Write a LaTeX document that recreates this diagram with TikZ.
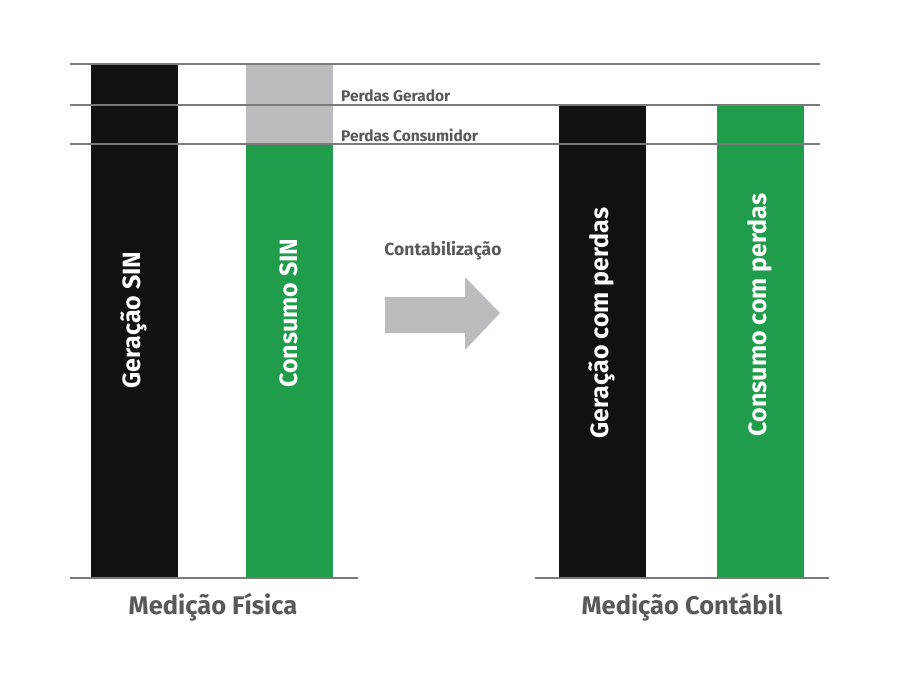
\documentclass[tikz,border=0pt]{standalone}
\usepackage{fontspec}
\setmainfont{Fira Sans}
\definecolor{barblack}{HTML}{111111}
\definecolor{bargreen}{HTML}{1F9D4A}
\definecolor{bargray}{HTML}{BBBCC0}
\definecolor{txtgray}{HTML}{595959}
\definecolor{linegray}{HTML}{7A7A7A}
\begin{document}
\begin{tikzpicture}[x=1pt,y=-1pt,
  bar/.style={draw=none,minimum width=87pt,inner sep=0pt,anchor=north west},
  bartext/.style={text=white,font=\bfseries\fontsize{25}{25}\selectfont,rotate=90},
  smalllbl/.style={text=txtgray,font=\bfseries\fontsize{15.5}{16}\selectfont,anchor=west,inner sep=0pt},
  biglbl/.style={text=txtgray,font=\bfseries\fontsize{25.5}{26}\selectfont,inner sep=0pt},
  guide/.style={draw=linegray,line width=1.1pt}]
\useasboundingbox (0,0) rectangle (900,687);
% bars
\node[bar,fill=barblack,minimum height=514pt] (g1) at (91,64) {};
\node[bar,fill=bargray,minimum height=80pt] (p1) at (246,64) {};
\node[bar,fill=bargreen,minimum height=434pt] (c1) at (246,144) {};
\node[bar,fill=barblack,minimum height=473pt] (g2) at (559,105) {};
\node[bar,fill=bargreen,minimum height=473pt] (c2) at (717,105) {};
% guide lines
\coordinate (l1a) at (70,64);  \coordinate (l1b) at (820,64);
\coordinate (l2a) at (70,105); \coordinate (l2b) at (820,105);
\coordinate (l3a) at (70,144); \coordinate (l3b) at (820,144);
\coordinate (b1a) at (70,578); \coordinate (b1b) at (358,578);
\coordinate (b2a) at (535,578); \coordinate (b2b) at (829,578);
\draw[guide] (l1a) -- (l1b);
\draw[guide] (l2a) -- (l2b);
\draw[guide] (l3a) -- (l3b);
\draw[guide] (b1a) -- (b1b);
\draw[guide] (b2a) -- (b2b);
% bar texts
\node[bartext] (tg1) at (134,320) {Geração SIN};
\node[bartext] (tc1) at (289,313) {Consumo SIN};
\node[bartext] (tg2) at (602,323) {Geração com perdas};
\node[bartext] (tc2) at (760,315) {Consumo com perdas};
% labels
\node[smalllbl] (pg) at (341,96) {Perdas Gerador};
\node[smalllbl] (pc) at (341,135) {Perdas Consumidor};
\node[text=txtgray,font=\bfseries\fontsize{17.5}{18}\selectfont] (ct) at (443,251) {Contabilização};
% arrow
\fill[bargray] (385,297) -- (465,297) -- (465,277) -- (500,313) -- (465,350) -- (465,333) -- (385,333) -- cycle;
\node[biglbl] (mf) at (213,607) {Medição Física};
\node[biglbl] (mc) at (682,607) {Medição Contábil};
\end{tikzpicture}
\end{document}
